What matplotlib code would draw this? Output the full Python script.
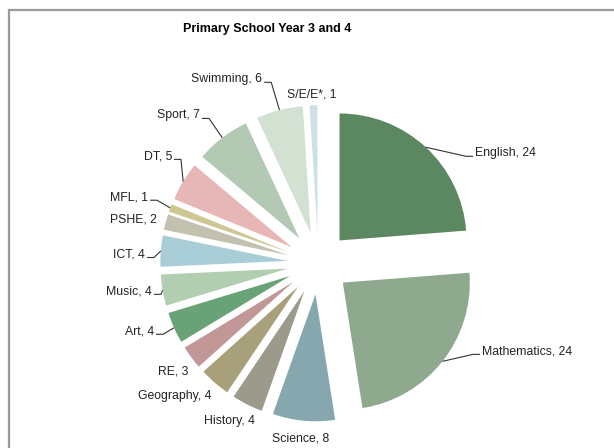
import numpy as np
import matplotlib
matplotlib.use("Agg")
from matplotlib import pyplot as plt
from matplotlib.lines import Line2D

plt.rcParams['font.family'] = ['Liberation Sans', 'DejaVu Sans']

subjects = ['English', 'Mathematics', 'Science', 'History', 'Geography', 'RE', 'Art',
            'Music', 'ICT', 'PSHE', 'MFL', 'DT', 'Sport', 'Swimming', 'S/E/E*']
hours = [24, 24, 8, 4, 4, 3, 4, 4, 4, 2, 1, 5, 7, 6, 1]

COLORS = ['#5b8761', '#8fa98f', '#87a7af', '#9c9a8b', '#a7a07a', '#c29797', '#6aa277',
          '#b2ceb0', '#a9cdd7', '#c2c0ae', '#cfc793', '#e7b6b6', '#b3c9b4', '#d2e1d2',
          '#cce0e6']

# label layout: angular shift from the wedge middle (deg, clockwise), distance from
# the pie centre (in radii), horizontal alignment and whether a leader line is drawn
LABEL_SHIFT = [11.8, -10.4, 0.4, 3.0, 6.4, 0.2, 2.0, 0.7, -1.1, 0.6, 1.1, 5.3, -1.0, -2.6, -0.4]
LABEL_DIST = [1.513, 1.458, 1.375, 1.420, 1.533, 1.420, 1.397, 1.327, 1.368, 1.320,
              1.443, 1.434, 1.500, 1.525, 1.342]
LABEL_ALIGN = ['left', 'left', 'center', 'center', 'center', 'center', 'right', 'right',
               'right', 'right', 'right', 'right', 'right', 'right', 'center']
LEADER = [True, True, False, False, False, False, True, True, True, False, True, True,
          True, True, False]

W, H, DPI = 614, 448, 100
R_PX = 127              # pie radius in pixels
CX, CY = 318.4, 263.3   # pie centre, pixels from top-left
EXPLODE = 0.245
FS = 8.8

fig = plt.figure(figsize=(W / DPI, H / DPI), dpi=DPI)
ax = fig.add_axes([0, 0, 1, 1])
wedges, _ = ax.pie(hours, colors=COLORS, startangle=90, counterclock=False,
                   explode=[EXPLODE] * len(hours), wedgeprops=dict(linewidth=0))
ax.set_xlim(-CX / R_PX, (W - CX) / R_PX)
ax.set_ylim(-(H - CY) / R_PX, CY / R_PX)
ax.set_aspect('equal')
ax.axis('off')

cap = FS * DPI / 72 * 0.716 / R_PX
for w, name, v, shift, dist, ha, lead in zip(wedges, subjects, hours, LABEL_SHIFT,
                                             LABEL_DIST, LABEL_ALIGN, LEADER):
    mid = np.deg2rad((w.theta1 + w.theta2) / 2)
    ang = mid - np.deg2rad(shift)
    x = dist * np.cos(ang)
    y = dist * np.sin(ang) - cap / 2
    ax.text(x, y, f'{name}, {v}', ha=ha, va='baseline', fontsize=FS, color='#222222')
    if lead:
        px, py = (1 + EXPLODE) * np.cos(mid), (1 + EXPLODE) * np.sin(mid)
        side = -1 if ha == 'left' else 1
        ax.plot([px, x + side * 9 / R_PX, x + side * 2 / R_PX], [py, y, y],
                color='#333333', lw=0.8, solid_capstyle='butt')

# chart area border (only top and left edges are in view)
fig.add_artist(Line2D([9 / W, 9 / W, 1], [0, 1 - 10 / H, 1 - 10 / H],
                      color='#9a9a9a', lw=1.6, solid_joinstyle='miter'))

fig.text(267 / W, 1 - 29 / H, 'Primary School Year 3 and 4', ha='center', va='center',
         fontsize=9, fontweight='bold', color='#000000')

fig.savefig('out.png', dpi=DPI, facecolor='white')
